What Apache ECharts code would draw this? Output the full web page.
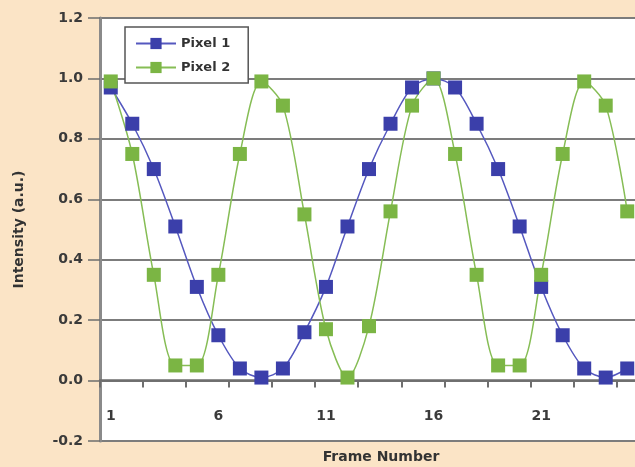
<!DOCTYPE html>
<html>
<head>
<meta charset="utf-8">
<script src="https://cdn.jsdelivr.net/npm/echarts@6/dist/echarts.min.js"></script>
<style>
  html,body{margin:0;padding:0;background:#fbe4c6;}
  #main{width:635px;height:467px;}
</style>
</head>
<body>
<div id="main"></div>
<script>
// frame numbers
var frames=[];
for(var i=1;i<=25;i++){frames.push(String(i));}
// intensity values
var pixel1=[0.97,0.85,0.70,0.51,0.31,0.15,0.04,0.01,0.04,0.16,0.31,0.51,0.70,0.85,0.97,1.00,0.97,0.85,0.70,0.51,0.31,0.15,0.04,0.01,0.04];
var pixel2=[0.99,0.75,0.35,0.05,0.05,0.35,0.75,0.99,0.91,0.55,0.17,0.01,0.18,0.56,0.91,1.00,0.75,0.35,0.05,0.05,0.35,0.75,0.99,0.91,0.56];

var blue='#3b3faa', green='#7bb544';
var labelFont={fontFamily:'DejaVu Sans',fontWeight:'bold',fontSize:14,color:'#3a3a3a'};

var chart=echarts.init(document.getElementById('main'));
chart.setOption({
  backgroundColor:'#fbe4c6',
  animation:false,
  grid:{left:100,top:18,width:538,height:423,backgroundColor:'#ffffff',show:true,borderWidth:0,
        outerBoundsMode:'none',containLabel:false},
  legend:{
    left:125,top:27,orient:'vertical',
    backgroundColor:'#ffffff',borderColor:'#555',borderWidth:1.5,
    padding:[10,18,9,10],itemGap:11,itemWidth:40,itemHeight:14,
    textStyle:{fontFamily:'DejaVu Sans',fontWeight:'bold',fontSize:13,color:'#333'},
    data:['Pixel 1','Pixel 2']
  },
  xAxis:{
    type:'category',data:frames,boundaryGap:true,
    name:'Frame Number',nameLocation:'middle',nameGap:9,
    nameTextStyle:{fontFamily:'DejaVu Sans',fontWeight:'bold',fontSize:14,color:'#333',padding:[0,0,0,24]},
    axisLine:{onZero:true,lineStyle:{color:'#6e6e6e',width:2.5}},
    axisTick:{show:true,interval:1,length:7,lineStyle:{color:'#6e6e6e',width:2}},
    axisLabel:Object.assign({interval:4,margin:-32},labelFont),
    splitLine:{show:false}
  },
  yAxis:{
    type:'value',min:-0.2,max:1.2,interval:0.2,
    name:'Intensity (a.u.)',nameLocation:'middle',nameGap:74,nameRotate:90,
    nameTextStyle:{fontFamily:'DejaVu Sans',fontWeight:'bold',fontSize:14,color:'#333'},
    axisLine:{show:true,lineStyle:{color:'#8a8a8a',width:3}},
    axisTick:{show:true,length:12,lineStyle:{color:'#6e6e6e',width:1.5}},
    axisLabel:Object.assign({margin:17,formatter:function(v){return v.toFixed(1);}},labelFont),
    splitLine:{show:true,lineStyle:{color:'#7c7c7c',width:2}}
  },
  series:[
    {name:'Pixel 1',type:'line',data:pixel1,smooth:0.3,
     symbol:'rect',symbolSize:14,
     itemStyle:{color:blue},lineStyle:{color:'#5558bf',width:1.5}},
    {name:'Pixel 2',type:'line',data:pixel2,smooth:0.3,
     symbol:'rect',symbolSize:14,
     itemStyle:{color:green},lineStyle:{color:'#86bd55',width:1.5}}
  ]
});
</script>
</body>
</html>
